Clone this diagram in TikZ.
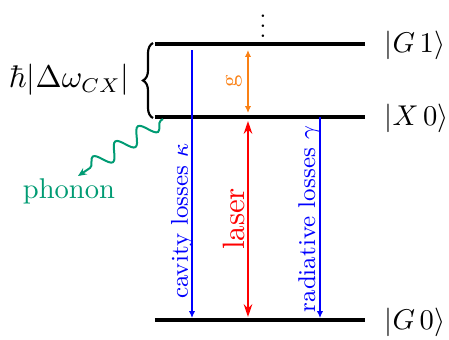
\documentclass[tikz,border=0pt]{standalone}
\usetikzlibrary{arrows.meta,decorations.pathreplacing,decorations.pathmorphing}
\definecolor{phgreen}{RGB}{0,155,115}
\definecolor{gorange}{RGB}{250,128,20}
\begin{document}
\begin{tikzpicture}[x=0.35pt,y=-0.35pt,
  level/.style={line width=1.1pt},
  loss/.style={blue, line width=0.45pt, -{Latex[length=2.4pt,width=2.2pt]}},
  lab/.style={font=\fontsize{8.5}{10}\selectfont, rotate=90, inner sep=0pt},
  state/.style={font=\fontsize{10.3}{12}\selectfont, anchor=west, inner sep=0pt}]
\useasboundingbox (0,0) rectangle (449,340);
% levels
\coordinate (G1l) at (155,44); \coordinate (G1r) at (365,44);
\coordinate (X0l) at (155,117); \coordinate (X0r) at (365,117);
\coordinate (G0l) at (155,320); \coordinate (G0r) at (365,320);
\draw[level] (G1l) -- (G1r);
\draw[level] (X0l) -- (X0r);
\draw[level] (G0l) -- (G0r);
\node[state] (sG1) at (384,45) {$|G\,1\rangle$};
\node[state] (sX0) at (384,118) {$|X\,0\rangle$};
\node[state] (sG0) at (384,322) {$|G\,0\rangle$};
\node[scale=0.85, inner sep=0pt] (dots) at (263,19) {$\vdots$};
% brace
\coordinate (bb) at (153,118); \coordinate (bt) at (153,43);
\draw[line width=0.75pt, decorate, decoration={brace, amplitude=3.5pt}] (bb) -- (bt);
\node[font=\fontsize{10.5}{12}\selectfont, anchor=east, inner sep=0pt] (dw) at (130,80) {$\hbar|\Delta\omega_{CX}|$};
% cavity losses
\coordinate (c1) at (192,50); \coordinate (c2) at (192,318);
\draw[loss] (c1) -- (c2);
\node[lab, text=blue] (lc) at (182,221) {cavity losses $\kappa$};
% g
\coordinate (g1) at (248,50); \coordinate (g2) at (248,113);
\draw[gorange, line width=0.5pt, {Latex[length=2.4pt,width=2.2pt]}-{Latex[length=2.4pt,width=2.2pt]}] (g1) -- (g2);
\node[lab, text=gorange] (lg) at (234,81) {g};
% laser
\coordinate (l1) at (248,121); \coordinate (l2) at (248,317);
\draw[red, line width=0.7pt, {Stealth[length=4.5pt,width=3pt]}-{Stealth[length=4.5pt,width=3pt]}] (l1) -- (l2);
\node[rotate=90, inner sep=0pt, text=red, font=\fontsize{10.8}{12}\selectfont] (ll) at (234,219) {laser};
% radiative
\coordinate (r1) at (320,117); \coordinate (r2) at (320,318);
\draw[loss] (r1) -- (r2);
\node[lab, text=blue] (lr) at (309,219) {radiative losses $\gamma$};
% phonon
\coordinate (p1) at (163,119); \coordinate (p2) at (78,176);
\draw[phgreen, line width=0.7pt, decorate, decoration={snake, segment length=9.5pt, amplitude=2.8pt, pre length=1pt, post length=3pt}, -{Stealth[length=3pt,width=2.6pt]}] (p1) -- (p2);
\node[text=phgreen, inner sep=0pt] (ph) at (69,191) {phonon};
\end{tikzpicture}
\end{document}
